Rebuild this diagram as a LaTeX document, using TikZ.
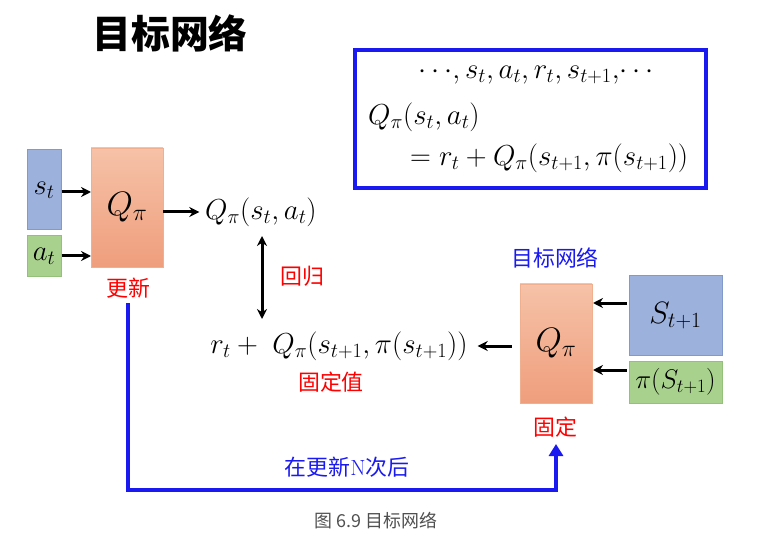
\documentclass[tikz,border=0pt]{standalone}
\usepackage{fix-cm}
\usepackage{fontspec}
\newfontfamily\cjk{Noto Sans CJK SC}
\usetikzlibrary{arrows.meta}
\definecolor{boxblue}{HTML}{9DB1DD}
\definecolor{boxblueline}{HTML}{8399CC}
\definecolor{boxgreen}{HTML}{A9D18E}
\definecolor{boxgreenline}{HTML}{93C07A}
\definecolor{qtop}{HTML}{F6C2A8}
\definecolor{qbot}{HTML}{EF9E7C}
\definecolor{qline}{HTML}{F0B090}
\definecolor{framblue}{HTML}{1A1AF0}
\definecolor{capgray}{HTML}{505050}
\tikzset{
  sbox/.style={draw=boxblueline, fill=boxblue, line width=1bp, inner sep=0pt},
  gbox/.style={draw=boxgreenline, fill=boxgreen, line width=1bp, inner sep=0pt},
  qbox/.style={draw=qline, top color=qtop, bottom color=qbot, line width=0.6bp, inner sep=0pt},
  arr/.style={-{Stealth[length=10bp,width=10bp]}, line width=3bp, black},
  darr/.style={{Stealth[length=10bp,width=10bp]}-{Stealth[length=10bp,width=10bp]}, line width=3bp, black},
  redlab/.style={text=red, font=\cjk\fontsize{22}{26}\selectfont, inner sep=0pt},
  bluelab/.style={text=framblue, font=\cjk\fontsize{22}{26}\selectfont, inner sep=0pt},
  mth/.style={font=\fontsize{29}{34}\selectfont, inner sep=0pt},
}
\begin{document}
\begin{tikzpicture}[x=1bp,y=-1bp]
\useasboundingbox (0,0) rectangle (764,543);
% title
\node[font=\cjk\bfseries\fontsize{39}{44}\selectfont, inner sep=0pt] (title) at (170,33) {目标网络};
% formula frame
\node[draw=framblue, line width=3.5bp, minimum width=351bp, minimum height=138bp, inner sep=0pt] (frame) at (530.5,119) {};
\node[mth, anchor=center] (f1) at (536,75) {$\cdots\!,s_t,a_t,r_t,s_{t+1},\!\cdots$};
\node[mth, anchor=west] (f2) at (368,117) {$Q_\pi(s_t,a_t)$};
\node[mth, anchor=west] (f3) at (410,158) {$=r_t+Q_\pi\bigl(s_{t+1},\pi(s_{t+1})\bigr)$};
% left network
\node[sbox, minimum width=34bp, minimum height=80bp] (st) at (44,190) {};
\node[mth] at (st) {$s_t$};
\node[gbox, minimum width=34bp, minimum height=40bp] (at) at (44,256) {};
\node[mth] at (at) {$a_t$};
\node[qbox, minimum width=72bp, minimum height=119bp] (q1) at (127,207.5) {};
\node[font=\fontsize{34}{38}\selectfont] at (q1) {$Q_\pi$};
\coordinate (q1in1) at (91,192);
\coordinate (q1in2) at (91,256);
\draw[arr] (st.east |- q1in1) -- (q1in1);
\draw[arr] (at.east |- q1in2) -- (q1in2);
\node[mth, anchor=west] (qsa) at (205,212) {$Q_\pi(s_t,a_t)$};
\draw[arr] (q1.east |- qsa) -- ++(36,0);
\node[redlab] (upd) at (128,288) {更新};
% regression
\node[mth] (target) at (339,346) {$r_t+\;Q_\pi\bigl(s_{t+1},\pi(s_{t+1})\bigr)$};
\coordinate (dtop) at (262,236);
\coordinate (dbot) at (262,319);
\draw[darr] (dtop) -- (dbot);
\node[redlab] (reg) at (302,276) {回归};
\node[redlab] (fixv) at (331,382) {固定值};
% right network
\node[qbox, minimum width=72bp, minimum height=119bp] (q2) at (556,343.5) {};
\node[font=\fontsize{34}{38}\selectfont] at (q2) {$Q_\pi$};
\node[bluelab] (tnet) at (555,258) {目标网络};
\node[sbox, minimum width=93bp, minimum height=79bp] (s1) at (675.5,315.5) {};
\node[font=\fontsize{31}{36}\selectfont] at (s1) {$S_{t+1}$};
\node[gbox, minimum width=93bp, minimum height=42bp] (pis) at (675.5,382) {};
\node[font=\fontsize{27}{32}\selectfont] at (pis) {$\pi(S_{t+1})$};
\coordinate (q2in1) at (593,303);
\coordinate (q2in2) at (593,370);
\draw[arr] (s1.west |- q2in1) ++(-2,0) -- (q2in1);
\draw[arr] (pis.west |- q2in2) ++(-2,0) -- (q2in2);
\draw[arr] (q2.west |- target) ++(-8,0) -- ++(-34,0);
\node[redlab] (fix) at (555,427) {固定};
% copy path
\coordinate (cpA) at (128,303);
\coordinate (cpB) at (128,490);
\coordinate (cpC) at (556,490);
\coordinate (cpD) at (556,444);
\draw[framblue, line width=4.5bp, -{Triangle[length=12bp,width=14bp]}] (cpA) -- (cpB) -- (cpC) -- (cpD);
\node[text=framblue, font=\fontsize{22}{26}\selectfont, inner sep=0pt] (after) at (347,467) {{\cjk 在更新}N{\cjk 次后}};
% caption
\node[text=capgray, font=\cjk\fontsize{18}{21}\selectfont, inner sep=0pt] (cap) at (376,521) {图 6.9 目标网络};
\end{tikzpicture}
\end{document}
